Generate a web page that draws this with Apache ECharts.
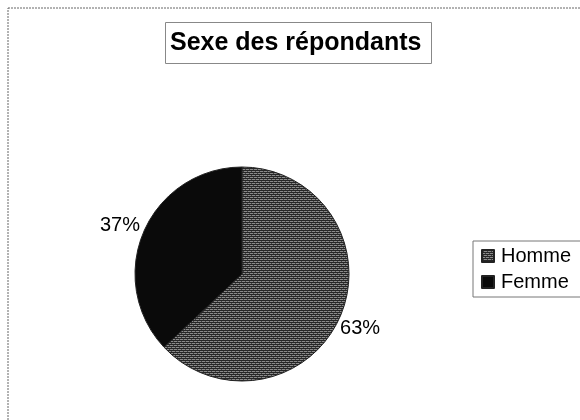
<!DOCTYPE html>
<html>
<head>
<meta charset="utf-8">
<script src="https://cdn.jsdelivr.net/npm/echarts@6/dist/echarts.min.js"></script>
<style>
  html, body { margin: 0; padding: 0; background: #fff; }
  #main { width: 580px; height: 420px; }
</style>
</head>
<body>
<div id="main"></div>
<script>
// données du graphique
const categories = ['Homme', 'Femme'];
const values = [63, 37];

// motif hachuré (lignes horizontales) pour la part "Homme"
function makeHatch() {
    const c = document.createElement('canvas');
    c.width = 4;
    c.height = 4;
    const ctx = c.getContext('2d');
    ctx.fillStyle = '#8a8a8a';
    ctx.fillRect(0, 0, 4, 4);
    ctx.fillStyle = '#262626';
    ctx.fillRect(0, 0, 4, 1);
    ctx.fillRect(0, 2, 4, 1);
    ctx.fillStyle = '#444';
    ctx.fillRect(1, 1, 1, 1);
    ctx.fillRect(3, 3, 1, 1);
    return c;
}

const colors = [{ image: makeHatch(), repeat: 'repeat' }, '#0a0a0a'];

const myChart = echarts.init(document.getElementById('main'));

const option = {
    backgroundColor: '#fff',
    animation: false,
    graphic: [
        {
            // cadre de la zone de graphique
            type: 'rect',
            shape: { x: 8, y: 8, width: 600, height: 440 },
            style: { fill: 'none', stroke: '#666', lineWidth: 1, lineDash: [2, 1] }
        }
    ],
    title: {
        text: 'Sexe des répondants',
        left: 165,
        top: 22,
        padding: [9, 10, 8, 5],
        borderColor: '#888',
        borderWidth: 1,
        textStyle: {
            fontFamily: 'Liberation Sans, Arial, sans-serif',
            fontWeight: 'bold',
            fontSize: 25,
            color: '#000'
        }
    },
    legend: {
        orient: 'vertical',
        left: 473,
        top: 241,
        data: categories,
        itemWidth: 12,
        itemHeight: 12,
        itemGap: 6,
        padding: [5, 30, 5, 8],
        borderColor: '#777',
        borderWidth: 1,
        icon: 'rect',
        textStyle: {
            fontFamily: 'Liberation Sans, Arial, sans-serif',
            fontSize: 20,
            color: '#000',
            padding: [0, 0, 0, 2]
        }
    },
    series: [
        {
            name: 'Sexe des répondants',
            type: 'pie',
            radius: 107,
            center: [242, 274],
            startAngle: 90,
            clockwise: true,
            label: {
                show: true,
                position: 'outside',
                formatter: '{d}%',
                fontFamily: 'Liberation Sans, Arial, sans-serif',
                fontSize: 20,
                color: '#000'
            },
            labelLine: { show: false, length: 2, length2: 0 },
            labelLayout: function (params) {
                // rapproche les étiquettes comme dans l'original
                return params.dataIndex === 0 ? { dx: -7, dy: 11 } : { dx: 3, dy: -5 };
            },
            itemStyle: { borderColor: '#222', borderWidth: 1 },
            data: categories.map(function (name, i) {
                return { name: name, value: values[i], itemStyle: { color: colors[i] } };
            })
        }
    ]
};

myChart.setOption(option);
</script>
</body>
</html>
